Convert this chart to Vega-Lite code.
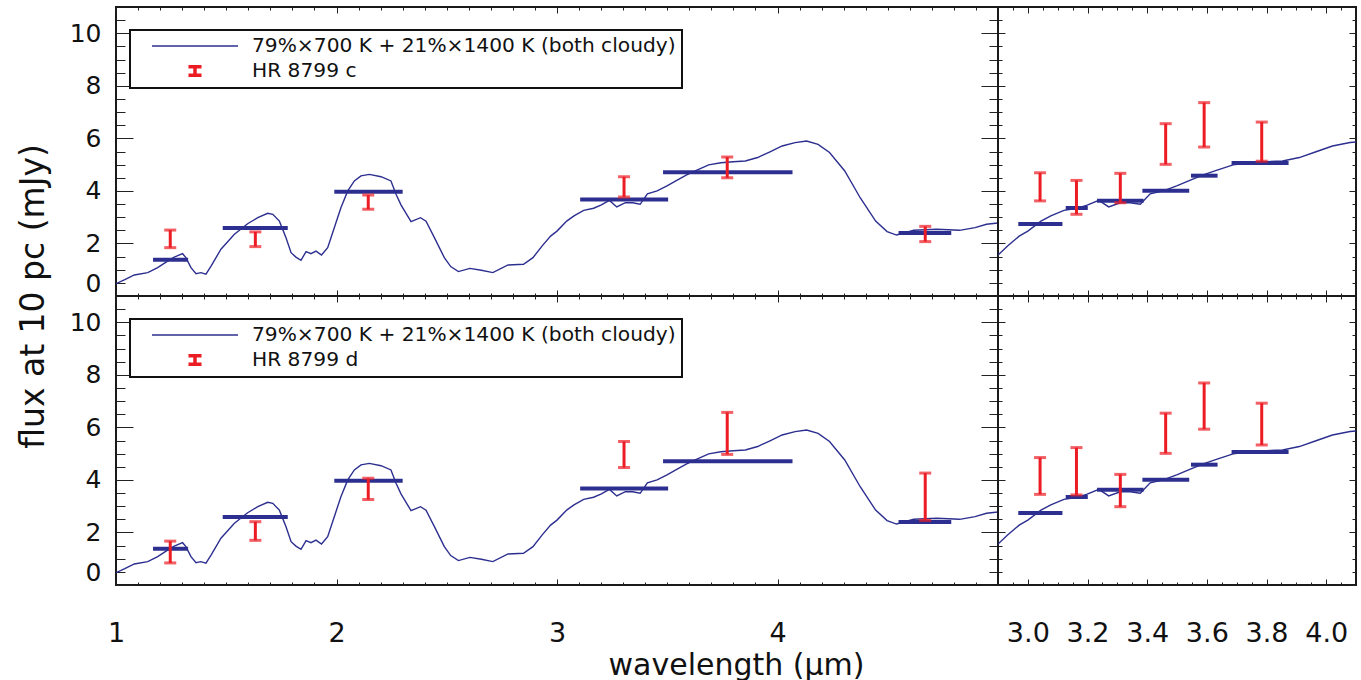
{
  "$schema": "https://vega.github.io/schema/vega-lite/v6.json",
  "background": "white",
  "padding": {"left": 16, "top": 5, "right": 5, "bottom": 0},
  "config": {
    "font": "DejaVu Sans",
    "view": {"stroke": "#1a1a1a", "strokeWidth": 2},
    "axis": {"domain": false, "grid": false, "tickColor": "#222222", "tickWidth": 1, "labelFont": "DejaVu Sans", "labelColor": "#111111", "titleFont": "DejaVu Sans", "titleFontWeight": "normal", "titleColor": "#111111", "labelOverlap": false, "labelFlush": false}
  },
  "datasets": {
    "model": [
      {"lam": 1.000, "flux": 0.47}, {"lam": 1.040, "flux": 0.62}, {"lam": 1.083, "flux": 0.80}, {"lam": 1.144, "flux": 0.89},
      {"lam": 1.189, "flux": 1.08}, {"lam": 1.234, "flux": 1.33}, {"lam": 1.264, "flux": 1.48}, {"lam": 1.302, "flux": 1.61},
      {"lam": 1.317, "flux": 1.46}, {"lam": 1.340, "flux": 1.08}, {"lam": 1.363, "flux": 0.85}, {"lam": 1.385, "flux": 0.89},
      {"lam": 1.408, "flux": 0.83}, {"lam": 1.431, "flux": 1.14}, {"lam": 1.476, "flux": 1.78}, {"lam": 1.537, "flux": 2.35},
      {"lam": 1.597, "flux": 2.75}, {"lam": 1.643, "flux": 2.98}, {"lam": 1.688, "flux": 3.15}, {"lam": 1.711, "flux": 3.11},
      {"lam": 1.741, "flux": 2.85}, {"lam": 1.771, "flux": 2.22}, {"lam": 1.794, "flux": 1.65}, {"lam": 1.816, "flux": 1.48},
      {"lam": 1.839, "flux": 1.36}, {"lam": 1.862, "flux": 1.69}, {"lam": 1.884, "flux": 1.61}, {"lam": 1.907, "flux": 1.71},
      {"lam": 1.932, "flux": 1.56}, {"lam": 1.960, "flux": 1.84}, {"lam": 1.990, "flux": 2.60}, {"lam": 2.020, "flux": 3.36},
      {"lam": 2.051, "flux": 4.00}, {"lam": 2.081, "flux": 4.38}, {"lam": 2.111, "flux": 4.57}, {"lam": 2.149, "flux": 4.63},
      {"lam": 2.202, "flux": 4.54}, {"lam": 2.247, "flux": 4.38}, {"lam": 2.270, "flux": 3.87}, {"lam": 2.293, "flux": 3.46},
      {"lam": 2.338, "flux": 2.83}, {"lam": 2.381, "flux": 2.98}, {"lam": 2.406, "flux": 2.85}, {"lam": 2.444, "flux": 2.22},
      {"lam": 2.489, "flux": 1.46}, {"lam": 2.518, "flux": 1.12}, {"lam": 2.553, "flux": 0.93}, {"lam": 2.605, "flux": 1.05},
      {"lam": 2.657, "flux": 0.98}, {"lam": 2.709, "flux": 0.89}, {"lam": 2.778, "flux": 1.18}, {"lam": 2.848, "flux": 1.21},
      {"lam": 2.891, "flux": 1.46}, {"lam": 2.932, "flux": 1.90}, {"lam": 2.971, "flux": 2.28}, {"lam": 3.000, "flux": 2.47},
      {"lam": 3.044, "flux": 2.85}, {"lam": 3.077, "flux": 3.05}, {"lam": 3.121, "flux": 3.26}, {"lam": 3.166, "flux": 3.34},
      {"lam": 3.199, "flux": 3.46}, {"lam": 3.238, "flux": 3.64}, {"lam": 3.271, "flux": 3.39}, {"lam": 3.310, "flux": 3.55},
      {"lam": 3.343, "flux": 3.55}, {"lam": 3.377, "flux": 3.49}, {"lam": 3.410, "flux": 3.89}, {"lam": 3.454, "flux": 4.00},
      {"lam": 3.499, "flux": 4.19}, {"lam": 3.543, "flux": 4.40}, {"lam": 3.588, "flux": 4.61}, {"lam": 3.632, "flux": 4.78},
      {"lam": 3.688, "flux": 4.99}, {"lam": 3.743, "flux": 5.07}, {"lam": 3.799, "flux": 5.11}, {"lam": 3.854, "flux": 5.14},
      {"lam": 3.910, "flux": 5.27}, {"lam": 3.966, "flux": 5.49}, {"lam": 4.021, "flux": 5.71}, {"lam": 4.080, "flux": 5.84},
      {"lam": 4.132, "flux": 5.90}, {"lam": 4.184, "flux": 5.77}, {"lam": 4.236, "flux": 5.46}, {"lam": 4.305, "flux": 4.76},
      {"lam": 4.375, "flux": 3.74}, {"lam": 4.445, "flux": 2.85}, {"lam": 4.497, "flux": 2.45}, {"lam": 4.540, "flux": 2.32},
      {"lam": 4.618, "flux": 2.50}, {"lam": 4.722, "flux": 2.54}, {"lam": 4.826, "flux": 2.50}, {"lam": 4.896, "flux": 2.60},
      {"lam": 4.948, "flux": 2.73}, {"lam": 5.000, "flux": 2.78}
    ],
    "bins": [
      {"set": "broad", "lo": 1.168, "hi": 1.327, "flux": 1.38},
      {"set": "broad", "lo": 1.484, "hi": 1.779, "flux": 2.59},
      {"set": "broad", "lo": 1.990, "hi": 2.300, "flux": 3.97},
      {"set": "broad", "lo": 3.105, "hi": 3.504, "flux": 3.67},
      {"set": "broad", "lo": 3.481, "hi": 4.068, "flux": 4.71},
      {"set": "broad", "lo": 4.549, "hi": 4.788, "flux": 2.40},
      {"set": "narrow", "lo": 2.968, "hi": 3.116, "flux": 2.74},
      {"set": "narrow", "lo": 3.127, "hi": 3.201, "flux": 3.35},
      {"set": "narrow", "lo": 3.232, "hi": 3.388, "flux": 3.63},
      {"set": "narrow", "lo": 3.384, "hi": 3.541, "flux": 4.01},
      {"set": "narrow", "lo": 3.547, "hi": 3.636, "flux": 4.58},
      {"set": "narrow", "lo": 3.683, "hi": 3.874, "flux": 5.06}
    ],
    "obs": [
      {"planet": "c", "set": "broad", "lam": 1.246, "lo": 1.84, "hi": 2.51},
      {"planet": "c", "set": "broad", "lam": 1.632, "lo": 1.88, "hi": 2.44},
      {"planet": "c", "set": "broad", "lam": 2.144, "lo": 3.30, "hi": 3.84},
      {"planet": "c", "set": "broad", "lam": 3.304, "lo": 3.77, "hi": 4.54},
      {"planet": "c", "set": "broad", "lam": 3.772, "lo": 4.50, "hi": 5.29},
      {"planet": "c", "set": "broad", "lam": 4.670, "lo": 2.07, "hi": 2.65},
      {"planet": "c", "set": "narrow", "lam": 3.041, "lo": 3.62, "hi": 4.69},
      {"planet": "c", "set": "narrow", "lam": 3.163, "lo": 3.11, "hi": 4.40},
      {"planet": "c", "set": "narrow", "lam": 3.310, "lo": 3.55, "hi": 4.67},
      {"planet": "c", "set": "narrow", "lam": 3.462, "lo": 5.01, "hi": 6.56},
      {"planet": "c", "set": "narrow", "lam": 3.591, "lo": 5.67, "hi": 7.36},
      {"planet": "c", "set": "narrow", "lam": 3.784, "lo": 5.13, "hi": 6.62},
      {"planet": "d", "set": "broad", "lam": 1.246, "lo": 0.84, "hi": 1.67},
      {"planet": "d", "set": "broad", "lam": 1.632, "lo": 1.70, "hi": 2.41},
      {"planet": "d", "set": "broad", "lam": 2.144, "lo": 3.25, "hi": 4.06},
      {"planet": "d", "set": "broad", "lam": 3.304, "lo": 4.47, "hi": 5.46},
      {"planet": "d", "set": "broad", "lam": 3.772, "lo": 4.97, "hi": 6.57},
      {"planet": "d", "set": "broad", "lam": 4.670, "lo": 2.46, "hi": 4.26},
      {"planet": "d", "set": "narrow", "lam": 3.041, "lo": 3.45, "hi": 4.85},
      {"planet": "d", "set": "narrow", "lam": 3.163, "lo": 3.43, "hi": 5.23},
      {"planet": "d", "set": "narrow", "lam": 3.310, "lo": 2.98, "hi": 4.21},
      {"planet": "d", "set": "narrow", "lam": 3.462, "lo": 5.01, "hi": 6.54},
      {"planet": "d", "set": "narrow", "lam": 3.591, "lo": 5.93, "hi": 7.69},
      {"planet": "d", "set": "narrow", "lam": 3.784, "lo": 5.33, "hi": 6.92}
    ]
  },
  "columns": 2,
  "spacing": 0,
  "bounds": "flush",
  "resolve": {"scale": {"color": "independent"}, "legend": {"color": "independent"}},
  "concat": [
    {
      "width": 882, "height": 289,
      "resolve": {"axis": {"x": "independent", "y": "independent"}},
      "layer": [
        {
          "data": {"name": "model"},
          "mark": {"type": "line", "strokeWidth": 1.4, "clip": true},
          "encoding": {
            "x": {"field": "lam", "type": "quantitative", "scale": {"domain": [1, 5], "nice": false, "zero": false},
              "axis": {"orient": "bottom", "title": null, "labels": false, "values": [1,1.1,1.2,1.3,1.4,1.5,1.6,1.7,1.8,1.9,2,2.1,2.2,2.3,2.4,2.5,2.6,2.7,2.8,2.9,3,3.1,3.2,3.3,3.4,3.5,3.6,3.7,3.8,3.9,4,4.1,4.2,4.3,4.4,4.5,4.6,4.7,4.8,4.9],
                "tickSize": {"condition": {"test": "abs(datum.value - round(datum.value)) < 1e-6", "value": -6}, "value": -3}}},
            "y": {"field": "flux", "type": "quantitative", "scale": {"domain": [0, 11], "nice": false, "zero": false},
              "axis": {"orient": "left", "values": [0,0.5,1,1.5,2,2.5,3,3.5,4,4.5,5,5.5,6,6.5,7,7.5,8,8.5,9,9.5,10,10.5],
                "tickSize": {"condition": {"test": "abs(datum.value/2 - round(datum.value/2)) < 1e-6", "value": -17}, "value": -9},
                "labelExpr": "abs(datum.value/2 - round(datum.value/2)) < 1e-6 ? format(datum.value, '.0f') : ''",
                "labelFontSize": 25, "labelPadding": 32, "labelFlush": true,
                "title": "flux at 10 pc (mJy)", "titleFontSize": 33, "titleAngle": -90, "titleAlign": "center", "titleBaseline": "middle", "titleX": -83, "titleY": 289}},
            "color": {"datum": "79%×700 K + 21%×1400 K (both cloudy)", "type": "nominal",
              "scale": {"domain": ["79%×700 K + 21%×1400 K (both cloudy)", "HR 8799 c"], "range": ["#2c2f8f", "#ec1c24"]},
              "legend": {"title": null, "orient": "none", "legendX": 14, "legendY": 23, "padding": 6, "strokeColor": "#111111", "fillColor": "white",
                "symbolType": "stroke", "symbolSize": 7396, "symbolStrokeWidth": 1.5, "symbolOffset": 15, "labelOffset": 13,
                "labelFont": "DejaVu Sans", "labelFontSize": 20.2, "labelColor": "#111111", "labelLimit": 0, "labelBaseline": "middle",
                "clipHeight": 20, "rowPadding": 4,
                "encode": {
                  "symbols": {"update": {
                    "shape": [{"test": "indexof(datum.label, 'HR') === 0", "value": "M-0.134,-0.122H0.134V-0.076H0.023V0.076H0.134V0.122H-0.134V0.076H-0.023V-0.076H-0.134Z"}, {"value": "stroke"}],
                    "fill": [{"test": "indexof(datum.label, 'HR') === 0", "value": "#ec1c24"}, {"value": "transparent"}]
                  }},
                  "legend": {"update": {"strokeWidth": {"value": 2}}}
                }}}
          }
        },
        {
          "data": {"name": "bins"},
          "transform": [{"filter": "datum.set === 'broad'"}],
          "mark": {"type": "rule", "color": "#2c2f8f", "strokeWidth": 4},
          "encoding": {
            "x": {"field": "lo", "type": "quantitative",
              "axis": {"orient": "top", "title": null, "labels": false, "values": [1,1.1,1.2,1.3,1.4,1.5,1.6,1.7,1.8,1.9,2,2.1,2.2,2.3,2.4,2.5,2.6,2.7,2.8,2.9,3,3.1,3.2,3.3,3.4,3.5,3.6,3.7,3.8,3.9,4,4.1,4.2,4.3,4.4,4.5,4.6,4.7,4.8,4.9],
                "tickSize": {"condition": {"test": "abs(datum.value - round(datum.value)) < 1e-6", "value": -6}, "value": -3}}},
            "x2": {"field": "hi"},
            "y": {"field": "flux", "type": "quantitative",
              "axis": {"orient": "right", "title": null, "labels": false, "values": [0,0.5,1,1.5,2,2.5,3,3.5,4,4.5,5,5.5,6,6.5,7,7.5,8,8.5,9,9.5,10,10.5],
                "tickSize": {"condition": {"test": "abs(datum.value/2 - round(datum.value/2)) < 1e-6", "value": -17}, "value": -9}}}
          }
        },
        {
          "data": {"name": "obs"},
          "transform": [{"filter": "datum.planet === 'c' && datum.set === 'broad'"}],
          "mark": {"type": "errorbar", "orient": "vertical", "thickness": 3, "ticks": {"size": 12, "thickness": 3}},
          "encoding": {
            "x": {"field": "lam", "type": "quantitative", "axis": null},
            "y": {"field": "lo", "type": "quantitative", "axis": null},
            "y2": {"field": "hi"},
            "color": {"datum": "HR 8799 c", "type": "nominal"}
          }
        }
      ]
    },
    {
      "width": 358, "height": 289,
      "resolve": {"axis": {"x": "independent", "y": "independent"}},
      "layer": [
        {
          "data": {"name": "model"},
          "transform": [{"filter": "datum.lam >= 2.85 && datum.lam <= 4.15"}],
          "mark": {"type": "line", "color": "#2c2f8f", "strokeWidth": 1.4, "clip": true},
          "encoding": {
            "x": {"field": "lam", "type": "quantitative", "scale": {"domain": [2.9, 4.1], "nice": false, "zero": false},
              "axis": {"orient": "bottom", "title": null, "labels": false, "values": [2.95,3,3.05,3.1,3.15,3.2,3.25,3.3,3.35,3.4,3.45,3.5,3.55,3.6,3.65,3.7,3.75,3.8,3.85,3.9,3.95,4,4.05],
                "tickSize": {"condition": {"test": "abs(datum.value*5 - round(datum.value*5)) < 1e-6", "value": -6}, "value": -3}}},
            "y": {"field": "flux", "type": "quantitative", "scale": {"domain": [0, 11], "nice": false, "zero": false},
              "axis": {"orient": "left", "title": null, "labels": false, "values": [0,0.5,1,1.5,2,2.5,3,3.5,4,4.5,5,5.5,6,6.5,7,7.5,8,8.5,9,9.5,10,10.5],
                "tickSize": {"condition": {"test": "abs(datum.value/2 - round(datum.value/2)) < 1e-6", "value": -7}, "value": -4}}}
          }
        },
        {
          "data": {"name": "bins"},
          "transform": [{"filter": "datum.set === 'narrow'"}],
          "mark": {"type": "rule", "color": "#2c2f8f", "strokeWidth": 4},
          "encoding": {
            "x": {"field": "lo", "type": "quantitative",
              "axis": {"orient": "top", "title": null, "labels": false, "values": [2.95,3,3.05,3.1,3.15,3.2,3.25,3.3,3.35,3.4,3.45,3.5,3.55,3.6,3.65,3.7,3.75,3.8,3.85,3.9,3.95,4,4.05],
                "tickSize": {"condition": {"test": "abs(datum.value*5 - round(datum.value*5)) < 1e-6", "value": -6}, "value": -3}}},
            "x2": {"field": "hi"},
            "y": {"field": "flux", "type": "quantitative",
              "axis": {"orient": "right", "title": null, "labels": false, "values": [0,0.5,1,1.5,2,2.5,3,3.5,4,4.5,5,5.5,6,6.5,7,7.5,8,8.5,9,9.5,10,10.5],
                "tickSize": {"condition": {"test": "abs(datum.value/2 - round(datum.value/2)) < 1e-6", "value": -7}, "value": -4}}}
          }
        },
        {
          "data": {"name": "obs"},
          "transform": [{"filter": "datum.planet === 'c' && datum.set === 'narrow'"}],
          "mark": {"type": "errorbar", "orient": "vertical", "color": "#ec1c24", "thickness": 3, "ticks": {"size": 12, "thickness": 3}},
          "encoding": {
            "x": {"field": "lam", "type": "quantitative", "axis": null},
            "y": {"field": "lo", "type": "quantitative", "axis": null},
            "y2": {"field": "hi"}
          }
        }
      ]
    },
    {
      "width": 882, "height": 289,
      "resolve": {"axis": {"x": "independent", "y": "independent"}},
      "layer": [
        {
          "data": {"name": "model"},
          "mark": {"type": "line", "strokeWidth": 1.4, "clip": true},
          "encoding": {
            "x": {"field": "lam", "type": "quantitative", "scale": {"domain": [1, 5], "nice": false, "zero": false},
              "axis": {"orient": "bottom", "values": [1,1.1,1.2,1.3,1.4,1.5,1.6,1.7,1.8,1.9,2,2.1,2.2,2.3,2.4,2.5,2.6,2.7,2.8,2.9,3,3.1,3.2,3.3,3.4,3.5,3.6,3.7,3.8,3.9,4,4.1,4.2,4.3,4.4,4.5,4.6,4.7,4.8,4.9],
                "tickSize": {"condition": {"test": "abs(datum.value - round(datum.value)) < 1e-6", "value": -6}, "value": -3},
                "labelExpr": "abs(datum.value - round(datum.value)) < 1e-6 ? format(datum.value, '.0f') : ''",
                "labelFontSize": 27, "labelPadding": 41,
                "title": "wavelength (µm)", "titleFontSize": 30, "titleAlign": "center", "titleBaseline": "middle", "titleX": 620, "titleY": 80}},
            "y": {"field": "flux", "type": "quantitative", "scale": {"domain": [0, 11], "nice": false, "zero": false},
              "axis": {"orient": "left", "values": [0,0.5,1,1.5,2,2.5,3,3.5,4,4.5,5,5.5,6,6.5,7,7.5,8,8.5,9,9.5,10,10.5],
                "tickSize": {"condition": {"test": "abs(datum.value/2 - round(datum.value/2)) < 1e-6", "value": -17}, "value": -9},
                "labelExpr": "abs(datum.value/2 - round(datum.value/2)) < 1e-6 ? format(datum.value, '.0f') : ''",
                "labelFontSize": 25, "labelPadding": 32, "labelFlush": true, "title": null}},
            "color": {"datum": "79%×700 K + 21%×1400 K (both cloudy)", "type": "nominal",
              "scale": {"domain": ["79%×700 K + 21%×1400 K (both cloudy)", "HR 8799 d"], "range": ["#2c2f8f", "#ec1c24"]},
              "legend": {"title": null, "orient": "none", "legendX": 14, "legendY": 23, "padding": 6, "strokeColor": "#111111", "fillColor": "white",
                "symbolType": "stroke", "symbolSize": 7396, "symbolStrokeWidth": 1.5, "symbolOffset": 15, "labelOffset": 13,
                "labelFont": "DejaVu Sans", "labelFontSize": 20.2, "labelColor": "#111111", "labelLimit": 0, "labelBaseline": "middle",
                "clipHeight": 20, "rowPadding": 4,
                "encode": {
                  "symbols": {"update": {
                    "shape": [{"test": "indexof(datum.label, 'HR') === 0", "value": "M-0.134,-0.122H0.134V-0.076H0.023V0.076H0.134V0.122H-0.134V0.076H-0.023V-0.076H-0.134Z"}, {"value": "stroke"}],
                    "fill": [{"test": "indexof(datum.label, 'HR') === 0", "value": "#ec1c24"}, {"value": "transparent"}]
                  }},
                  "legend": {"update": {"strokeWidth": {"value": 2}}}
                }}}
          }
        },
        {
          "data": {"name": "bins"},
          "transform": [{"filter": "datum.set === 'broad'"}],
          "mark": {"type": "rule", "color": "#2c2f8f", "strokeWidth": 4},
          "encoding": {
            "x": {"field": "lo", "type": "quantitative",
              "axis": {"orient": "top", "title": null, "labels": false, "values": [1,1.1,1.2,1.3,1.4,1.5,1.6,1.7,1.8,1.9,2,2.1,2.2,2.3,2.4,2.5,2.6,2.7,2.8,2.9,3,3.1,3.2,3.3,3.4,3.5,3.6,3.7,3.8,3.9,4,4.1,4.2,4.3,4.4,4.5,4.6,4.7,4.8,4.9],
                "tickSize": {"condition": {"test": "abs(datum.value - round(datum.value)) < 1e-6", "value": -6}, "value": -3}}},
            "x2": {"field": "hi"},
            "y": {"field": "flux", "type": "quantitative",
              "axis": {"orient": "right", "title": null, "labels": false, "values": [0,0.5,1,1.5,2,2.5,3,3.5,4,4.5,5,5.5,6,6.5,7,7.5,8,8.5,9,9.5,10,10.5],
                "tickSize": {"condition": {"test": "abs(datum.value/2 - round(datum.value/2)) < 1e-6", "value": -17}, "value": -9}}}
          }
        },
        {
          "data": {"name": "obs"},
          "transform": [{"filter": "datum.planet === 'd' && datum.set === 'broad'"}],
          "mark": {"type": "errorbar", "orient": "vertical", "thickness": 3, "ticks": {"size": 12, "thickness": 3}},
          "encoding": {
            "x": {"field": "lam", "type": "quantitative", "axis": null},
            "y": {"field": "lo", "type": "quantitative", "axis": null},
            "y2": {"field": "hi"},
            "color": {"datum": "HR 8799 d", "type": "nominal"}
          }
        }
      ]
    },
    {
      "width": 358, "height": 289,
      "resolve": {"axis": {"x": "independent", "y": "independent"}},
      "layer": [
        {
          "data": {"name": "model"},
          "transform": [{"filter": "datum.lam >= 2.85 && datum.lam <= 4.15"}],
          "mark": {"type": "line", "color": "#2c2f8f", "strokeWidth": 1.4, "clip": true},
          "encoding": {
            "x": {"field": "lam", "type": "quantitative", "scale": {"domain": [2.9, 4.1], "nice": false, "zero": false},
              "axis": {"orient": "bottom", "title": null, "values": [2.95,3,3.05,3.1,3.15,3.2,3.25,3.3,3.35,3.4,3.45,3.5,3.55,3.6,3.65,3.7,3.75,3.8,3.85,3.9,3.95,4,4.05],
                "tickSize": {"condition": {"test": "abs(datum.value*5 - round(datum.value*5)) < 1e-6", "value": -6}, "value": -3},
                "labelExpr": "abs(datum.value*5 - round(datum.value*5)) < 1e-6 ? format(datum.value, '.1f') : ''",
                "labelFontSize": 27, "labelPadding": 41}},
            "y": {"field": "flux", "type": "quantitative", "scale": {"domain": [0, 11], "nice": false, "zero": false},
              "axis": {"orient": "left", "title": null, "labels": false, "values": [0,0.5,1,1.5,2,2.5,3,3.5,4,4.5,5,5.5,6,6.5,7,7.5,8,8.5,9,9.5,10,10.5],
                "tickSize": {"condition": {"test": "abs(datum.value/2 - round(datum.value/2)) < 1e-6", "value": -7}, "value": -4}}}
          }
        },
        {
          "data": {"name": "bins"},
          "transform": [{"filter": "datum.set === 'narrow'"}],
          "mark": {"type": "rule", "color": "#2c2f8f", "strokeWidth": 4},
          "encoding": {
            "x": {"field": "lo", "type": "quantitative",
              "axis": {"orient": "top", "title": null, "labels": false, "values": [2.95,3,3.05,3.1,3.15,3.2,3.25,3.3,3.35,3.4,3.45,3.5,3.55,3.6,3.65,3.7,3.75,3.8,3.85,3.9,3.95,4,4.05],
                "tickSize": {"condition": {"test": "abs(datum.value*5 - round(datum.value*5)) < 1e-6", "value": -6}, "value": -3}}},
            "x2": {"field": "hi"},
            "y": {"field": "flux", "type": "quantitative",
              "axis": {"orient": "right", "title": null, "labels": false, "values": [0,0.5,1,1.5,2,2.5,3,3.5,4,4.5,5,5.5,6,6.5,7,7.5,8,8.5,9,9.5,10,10.5],
                "tickSize": {"condition": {"test": "abs(datum.value/2 - round(datum.value/2)) < 1e-6", "value": -7}, "value": -4}}}
          }
        },
        {
          "data": {"name": "obs"},
          "transform": [{"filter": "datum.planet === 'd' && datum.set === 'narrow'"}],
          "mark": {"type": "errorbar", "orient": "vertical", "color": "#ec1c24", "thickness": 3, "ticks": {"size": 12, "thickness": 3}},
          "encoding": {
            "x": {"field": "lam", "type": "quantitative", "axis": null},
            "y": {"field": "lo", "type": "quantitative", "axis": null},
            "y2": {"field": "hi"}
          }
        }
      ]
    }
  ]
}
